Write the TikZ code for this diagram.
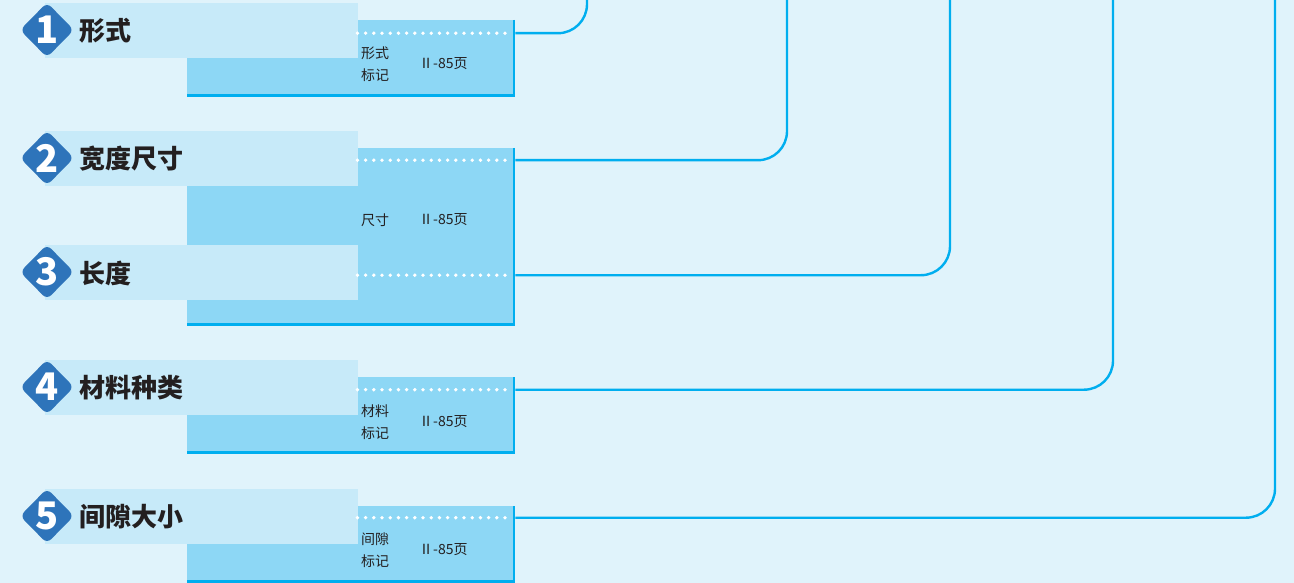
\documentclass[tikz,border=0pt]{standalone}
\usepackage{fontspec}
\usepackage{tikz}
\usetikzlibrary{shapes.geometric}
\newfontfamily\cjk{Noto Sans CJK SC}
\definecolor{bgblue}{HTML}{E0F3FB}
\definecolor{bandblue}{HTML}{C7EAF9}
\definecolor{boxblue}{HTML}{8DD7F5}
\definecolor{lineblue}{HTML}{00AEEF}
\definecolor{badgeblue}{HTML}{2E74BA}
\definecolor{textdark}{HTML}{231F20}

\begin{document}
\begin{tikzpicture}[x=1pt,y=-1pt,
    band/.style={fill=bandblue,anchor=north west,minimum width=313pt,minimum height=55pt,inner sep=0pt},
    tablebox/.style={fill=boxblue,anchor=north west,minimum width=328pt,inner sep=0pt},
    badge/.style={diamond,fill=badgeblue,minimum width=54pt,minimum height=55pt,inner sep=0pt,rounded corners=6pt,text=white,font=\cjk\bfseries\fontsize{38}{38}\selectfont},
    itemtext/.style={anchor=west,inner sep=0pt,text=textdark,font=\cjk\bfseries\fontsize{26}{26}\selectfont},
    smalltext/.style={anchor=west,inner sep=0pt,align=left,text=textdark,font=\cjk\fontsize{14}{22}\selectfont},
    dots/.style={white,line width=3.8pt,line cap=round,dash pattern=on 0pt off 8.2pt},
    link/.style={draw=lineblue,line width=2.4pt,rounded corners=29pt},
    boxedge/.style={draw=lineblue,line width=2pt},
    boxbase/.style={draw=lineblue,line width=2.6pt}]
    \useasboundingbox (0,0) rectangle (1294,583);
    \fill[bgblue] (0,0) rectangle (1294,583);

    % tables on the right of the bands
    \node[tablebox,minimum height=76pt] (box1) at (187,20) {};
    \node[tablebox,minimum height=177pt] (box2) at (187,148) {};
    \node[tablebox,minimum height=76pt] (box4) at (187,377) {};
    \node[tablebox,minimum height=76pt] (box5) at (187,506) {};
    \draw[boxedge] ([xshift=-1pt]box1.north east) -- ([xshift=-1pt]box1.south east);
    \draw[boxedge] ([xshift=-1pt]box2.north east) -- ([xshift=-1pt]box2.south east);
    \draw[boxedge] ([xshift=-1pt]box4.north east) -- ([xshift=-1pt]box4.south east);
    \draw[boxedge] ([xshift=-1pt]box5.north east) -- ([xshift=-1pt]box5.south east);
    \draw[boxbase] ([yshift=1pt]box1.south west) -- ([yshift=1pt]box1.south east);
    \draw[boxbase] ([yshift=1pt]box2.south west) -- ([yshift=1pt]box2.south east);
    \draw[boxbase] ([yshift=1pt]box4.south west) -- ([yshift=1pt]box4.south east);
    \draw[boxbase] ([yshift=1pt]box5.south west) -- ([yshift=1pt]box5.south east);

    % bands
    \node[band] (band1) at (45,3) {};
    \node[band] (band2) at (45,131) {};
    \node[band] (band3) at (45,245) {};
    \node[band] (band4) at (45,360) {};
    \node[band] (band5) at (45,489) {};

    \node[badge] (n1) at (47,30) {1};
    \node[badge] (n2) at (47,158) {2};
    \node[badge] (n3) at (47,272) {3};
    \node[badge] (n4) at (47,387) {4};
    \node[badge] (n5) at (47,516) {5};

    \node[itemtext] (item1) at (79,31) {形式};
    \node[itemtext] (item2) at (79,159) {宽度尺寸};
    \node[itemtext] (item3) at (79,273) {长度};
    \node[itemtext] (item4) at (79,388) {材料种类};
    \node[itemtext] (item5) at (79,517) {间隙大小};

    % table texts
    \node[smalltext] (mark1) at (361,64) {形式\\标记};
    \node[smalltext] (page1) at (419,64) {Ⅱ-85页};
    \node[smalltext] (mark2) at (361,220) {尺寸};
    \node[smalltext] (page2) at (419,220) {Ⅱ-85页};
    \node[smalltext] (mark4) at (361,422) {材料\\标记};
    \node[smalltext] (page4) at (419,422) {Ⅱ-85页};
    \node[smalltext] (mark5) at (361,550) {间隙\\标记};
    \node[smalltext] (page5) at (419,550) {Ⅱ-85页};

    % leaders and links
    \path (band1.east) ++(0,2.5) coordinate (d1);
    \path (band2.east) ++(0,1.5) coordinate (d2);
    \path (band3.east) ++(0,2.5) coordinate (d3);
    \path (band4.east) ++(0,2) coordinate (d4);
    \path (band5.east) ++(0,1) coordinate (d5);
    \coordinate (top1) at (587,0);
    \coordinate (top2) at (787,0);
    \coordinate (top3) at (950,0);
    \coordinate (top4) at (1113,0);
    \coordinate (top5) at (1275,0);

    \draw[dots] ([xshift=-1pt]d1) -- ([xshift=-4pt]d1 -| box1.east);
    \draw[dots] ([xshift=-1pt]d2) -- ([xshift=-4pt]d2 -| box2.east);
    \draw[dots] ([xshift=-1pt]d3) -- ([xshift=-4pt]d3 -| box2.east);
    \draw[dots] ([xshift=-1pt]d4) -- ([xshift=-4pt]d4 -| box4.east);
    \draw[dots] ([xshift=-1pt]d5) -- ([xshift=-4pt]d5 -| box5.east);

    \draw[link] (d1 -| box1.east) -| (top1);
    \draw[link] (d2 -| box2.east) -| (top2);
    \draw[link] (d3 -| box2.east) -| (top3);
    \draw[link] (d4 -| box4.east) -| (top4);
    \draw[link] (d5 -| box5.east) -| (top5);
\end{tikzpicture}
\end{document}
